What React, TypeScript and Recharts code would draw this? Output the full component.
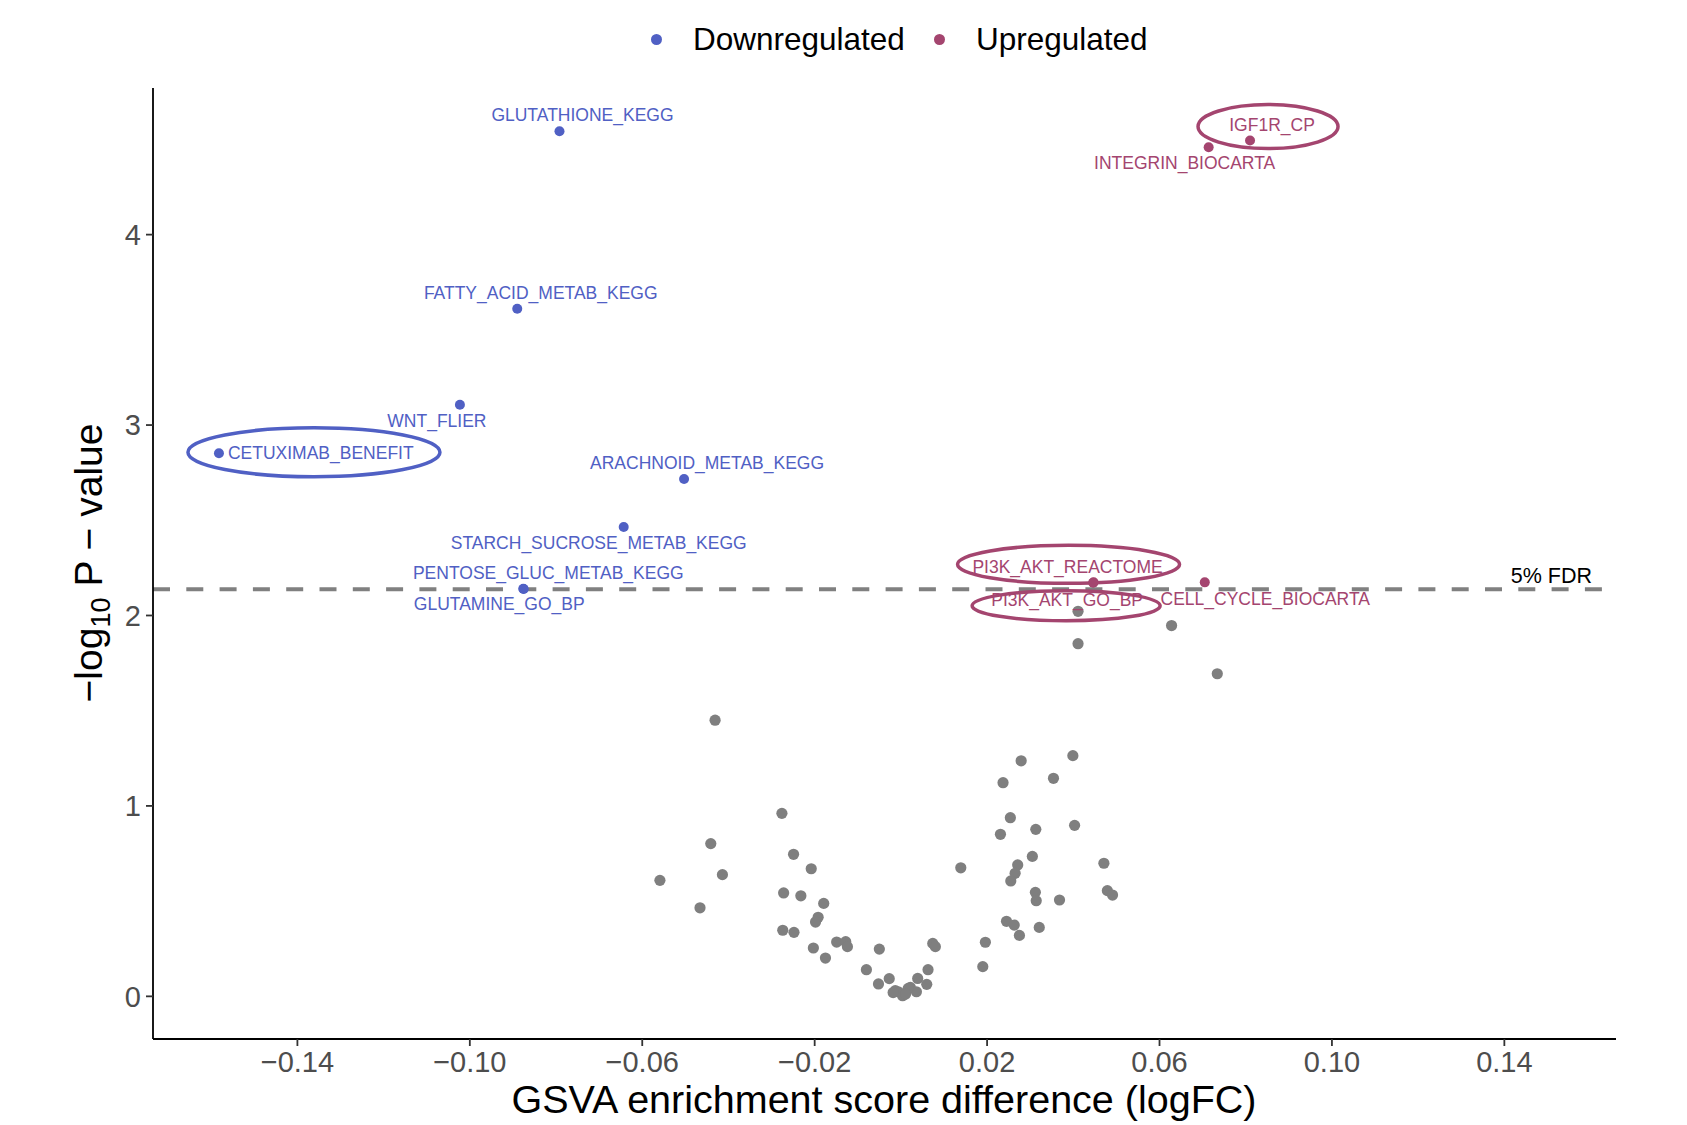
import { ScatterChart, Scatter, XAxis, YAxis, ReferenceLine } from "recharts";

const FONT = '"Liberation Sans", Arial, Helvetica, sans-serif';
const BLUE = "#5060C4";
const RED = "#A4456F";
const GRAY = "#7F7F7F";

const xTicks = [-0.14, -0.1, -0.06, -0.02, 0.02, 0.06, 0.1, 0.14];
const yTicks = [0, 1, 2, 3, 4];
const fdrThreshold = 2.138;

// significant pathways
const downNames = [
  "GLUTATHIONE_KEGG",
  "FATTY_ACID_METAB_KEGG",
  "WNT_FLIER",
  "CETUXIMAB_BENEFIT",
  "ARACHNOID_METAB_KEGG",
  "STARCH_SUCROSE_METAB_KEGG",
  "PENTOSE_GLUC_METAB_KEGG",
  "GLUTAMINE_GO_BP",
];
const downLogFC = [-0.0792, -0.089, -0.1023, -0.1582, -0.0503, -0.0643, -0.0876, -0.0875];
const downLogP = [4.543, 3.611, 3.107, 2.852, 2.717, 2.465, 2.14, 2.139];

const upNames = [
  "IGF1R_CP",
  "INTEGRIN_BIOCARTA",
  "PI3K_AKT_REACTOME",
  "PI3K_AKT_GO_BP",
  "CELL_CYCLE_BIOCARTA",
];
const upLogFC = [0.081, 0.0714, 0.0447, 0.0446, 0.0705];
const upLogP = [4.494, 4.459, 2.174, 2.172, 2.174];

// non-significant pathways
const nsLogFC = [
  -0.0431, 0.0279, 0.0399, 0.0237, 0.0354, -0.0276, 0.0254, 0.0313, 0.0403, 0.0231,
  -0.0441, -0.0249, -0.0208, 0.0139, 0.0305, 0.0271, 0.0265, 0.0255, 0.0471, -0.0559,
  -0.0414, -0.0466, -0.0272, -0.0232, -0.0179, -0.0192, -0.0198, 0.0312, 0.0314, 0.0368,
  0.0479, 0.0491, -0.0274, -0.0248, 0.0245, 0.0263, 0.0321, 0.0275, -0.0203, -0.0149,
  -0.0128, -0.0124, -0.0175, -0.005, 0.0074, 0.008, 0.0196, 0.019, -0.008, -0.0052,
  -0.0027, -0.0013, 0.0004, 0.0022, 0.0039, 0.0036, 0.0063, 0.006, -0.0006, 0.0017,
  -0.0018, 0.0011, 0.0411, 0.0411, 0.0628, 0.0734,
];
const nsLogP = [
  1.45, 1.237, 1.264, 1.122, 1.145, 0.961, 0.938, 0.877, 0.898, 0.851,
  0.802, 0.746, 0.67, 0.675, 0.735, 0.69, 0.646, 0.606, 0.699, 0.609,
  0.639, 0.465, 0.543, 0.528, 0.488, 0.415, 0.39, 0.546, 0.502, 0.506,
  0.555, 0.532, 0.347, 0.336, 0.394, 0.374, 0.362, 0.32, 0.254, 0.285,
  0.287, 0.261, 0.201, 0.248, 0.278, 0.261, 0.284, 0.156, 0.14, 0.065,
  0.093, 0.03, 0.003, 0.047, 0.094, 0.024, 0.14, 0.063, 0.024, 0.042,
  0.02, 0.012, 2.022, 1.852, 1.947, 1.694,
];

const legendItems = [
  { name: "Downregulated", color: BLUE },
  { name: "Upregulated", color: RED },
];

// label placement (pixel offsets from the point), like ggrepel output
type Lay = { dx: number; dy: number; anchor?: "start" | "middle"; ring?: number[] };
const labelLayout: Record<string, Lay> = {
  GLUTATHIONE_KEGG: { dx: 23, dy: -16 },
  FATTY_ACID_METAB_KEGG: { dx: 23.5, dy: -16 },
  WNT_FLIER: { dx: -23, dy: 16 },
  CETUXIMAB_BENEFIT: { dx: 9, dy: 0, anchor: "start", ring: [95, -1, 126, 24.5] },
  ARACHNOID_METAB_KEGG: { dx: 23, dy: -16 },
  STARCH_SUCROSE_METAB_KEGG: { dx: -25, dy: 16 },
  PENTOSE_GLUC_METAB_KEGG: { dx: 25, dy: -16 },
  GLUTAMINE_GO_BP: { dx: -24.5, dy: 15 },
  IGF1R_CP: { dx: 22, dy: -16, ring: [18, -14, 70, 22] },
  INTEGRIN_BIOCARTA: { dx: -24, dy: 16 },
  PI3K_AKT_REACTOME: { dx: -26, dy: -15, ring: [-25, -18, 111, 19] },
  PI3K_AKT_GO_BP: { dx: -26, dy: 17, ring: [-27, 23, 94, 15] },
  CELL_CYCLE_BIOCARTA: { dx: 60.5, dy: 17 },
};

const downData = downNames.map((name, i) => ({ name, x: downLogFC[i], y: downLogP[i] }));
const upData = upNames.map((name, i) => ({ name, x: upLogFC[i], y: upLogP[i] }));
const nsData = nsLogFC.map((x, i) => ({ x, y: nsLogP[i] }));

const fmt = (v: number) => v.toFixed(2).replace("-", "\u2212");

const grayDot = (p: any) => <circle cx={p.cx} cy={p.cy} r={5.6} fill={GRAY} />;

const labeledDot = (color: string) => (p: any) => {
  const { cx, cy, payload } = p;
  const lay = labelLayout[payload.name];
  return (
    <g>
      <circle cx={cx} cy={cy} r={5} fill={color} />
      {lay.ring && (
        <ellipse
          cx={cx + lay.ring[0]}
          cy={cy + lay.ring[1]}
          rx={lay.ring[2]}
          ry={lay.ring[3]}
          fill="none"
          stroke={color}
          strokeWidth={3.5}
        />
      )}
      <text
        x={cx + lay.dx}
        y={cy + lay.dy}
        textAnchor={lay.anchor ?? "middle"}
        dominantBaseline="central"
        fontSize={17.5}
        fontFamily={FONT}
        fill={color}
      >
        {payload.name}
      </text>
    </g>
  );
};

const XTitle = () => (
  <text x={876} y={1105} textAnchor="middle" fontSize={39.5} fontFamily={FONT} fill="#000">
    GSVA enrichment score difference (logFC)
  </text>
);

const YTitle = () => (
  <text
    transform="translate(94,555) rotate(-90)"
    textAnchor="middle"
    fontSize={39}
    fontFamily={FONT}
    fill="#000"
  >
    <tspan>{"\u2212log"}</tspan>
    <tspan fontSize={27} dy={8}>
      10
    </tspan>
    <tspan dy={-8} dx={11}>
      {"P \u2212 value"}
    </tspan>
  </text>
);

const FdrLabel = (props: any) => {
  const vb = props.viewBox || {};
  return (
    <text
      x={vb.x + vb.width - 24}
      y={vb.y - 6}
      textAnchor="end"
      fontSize={21.5}
      fontFamily={FONT}
      fill="#000"
    >
      5% FDR
    </text>
  );
};

export default function App() {
  return (
    <div style={{ position: "relative", width: 1671, height: 1117, fontFamily: FONT }}>
      <div
        style={{
          position: "absolute",
          top: 11,
          left: 643,
          height: 40,
          display: "flex",
          alignItems: "center",
          fontSize: 31.5,
          lineHeight: "40px",
          color: "#000",
          whiteSpace: "nowrap",
        }}
      >
        {legendItems.map((it) => (
          <div key={it.name} style={{ display: "flex", alignItems: "center", marginRight: 29 }}>
            <span
              style={{
                width: 11,
                height: 11,
                borderRadius: "50%",
                background: it.color,
                display: "inline-block",
                marginRight: 31,
              }}
            />
            <span>{it.name}</span>
          </div>
        ))}
      </div>
      <ScatterChart width={1671} height={1117} margin={{ top: 80, right: 63, left: 0, bottom: 0 }}>
        <XAxis
          type="number"
          dataKey="x"
          domain={[-0.1735, 0.1659]}
          allowDataOverflow
          ticks={xTicks}
          interval={0}
          tickFormatter={fmt}
          tick={{ fill: "#4D4D4D", fontSize: 29, fontFamily: FONT }}
          tickLine={{ stroke: "#333333", strokeWidth: 1.8 }}
          tickSize={7}
          tickMargin={5}
          axisLine={{ stroke: "#000", strokeWidth: 1.8 }}
          height={86}
          label={<XTitle />}
        />
        <YAxis
          type="number"
          dataKey="y"
          domain={[-0.224, 4.77]}
          allowDataOverflow
          ticks={yTicks}
          interval={0}
          tick={{ fill: "#4D4D4D", fontSize: 29, fontFamily: FONT }}
          tickLine={{ stroke: "#333333", strokeWidth: 1.8 }}
          tickSize={7}
          tickMargin={5}
          axisLine={{ stroke: "#000", strokeWidth: 1.8 }}
          width={145}
          label={<YTitle />}
        />
        <ReferenceLine
          y={fdrThreshold}
          stroke="#808080"
          strokeWidth={4}
          strokeDasharray="17 16.3"
          label={<FdrLabel />}
        />
        <Scatter data={nsData} isAnimationActive={false} shape={grayDot} />
        <Scatter data={downData} isAnimationActive={false} shape={labeledDot(BLUE)} />
        <Scatter data={upData} isAnimationActive={false} shape={labeledDot(RED)} />
      </ScatterChart>
    </div>
  );
}
